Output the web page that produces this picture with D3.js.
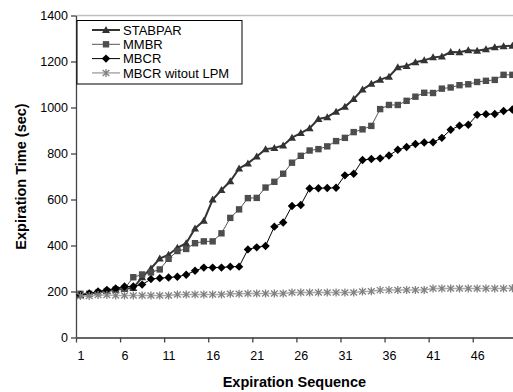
<!DOCTYPE html>
<html>
<head>
<meta charset="utf-8">
<script src="https://cdn.jsdelivr.net/npm/d3@7"></script>
<style>
  body { margin: 0; background: #fff; }
  svg { display: block; font-family: "Liberation Sans", Arial, sans-serif; }
</style>
</head>
<body>
<svg id="chart" width="513" height="392"></svg>
<script>
// expiration sequence 1..50
let sequence = d3.range(1, 51);

let stabpar = [185, 190, 196, 202, 208, 212, 215, 262, 300, 343,
  360, 390, 410, 474, 508, 600, 641, 679, 735, 757,
  787, 819, 824, 835, 869, 889, 910, 950, 958, 982,
  1003, 1037, 1078, 1103, 1121, 1134, 1175, 1180, 1197, 1205,
  1218, 1222, 1241, 1240, 1249, 1247, 1253, 1262, 1266, 1269];

let mmbr = [190, 190, 195, 202, 208, 212, 262, 274, 283, 296,
  342, 376, 385, 410, 418, 418, 453, 520, 557, 606,
  607, 652, 677, 712, 760, 790, 813, 819, 831, 854,
  868, 893, 905, 920, 993, 1011, 1011, 1029, 1047, 1064,
  1063, 1082, 1087, 1097, 1101, 1111, 1116, 1120, 1142, 1142];

let mbcr = [185, 192, 200, 207, 213, 222, 222, 230, 254, 258,
  261, 264, 273, 290, 304, 304, 304, 308, 308, 383,
  392, 398, 482, 500, 572, 576, 648, 649, 650, 651,
  705, 712, 772, 776, 779, 791, 816, 828, 841, 848,
  849, 868, 903, 921, 925, 968, 971, 972, 985, 991];

let mbcrNoLpm = [180, 180, 185, 185, 183, 183, 183, 183, 183, 183,
  183, 187, 187, 187, 187, 187, 187, 190, 190, 191,
  191, 191, 191, 191, 196, 196, 196, 196, 196, 196,
  196, 196, 200, 201, 206, 206, 207, 207, 207, 207,
  213, 213, 213, 213, 213, 213, 213, 213, 213, 214];

let yTicks = [0, 200, 400, 600, 800, 1000, 1200, 1400];
let xLabels = [1, 6, 11, 16, 21, 26, 31, 36, 41, 46];

let series = [
  { name: 'STABPAR', values: stabpar, line: '#333333', lw: 2, mark: 'triangle', fill: '#333333' },
  { name: 'MMBR', values: mmbr, line: '#555555', lw: 1, mark: 'square', fill: '#4d4d4d' },
  { name: 'MBCR', values: mbcr, line: '#000000', lw: 1, mark: 'diamond', fill: '#000000' },
  { name: 'MBCR witout LPM', values: mbcrNoLpm, line: '#aaaaaa', lw: 1.5, mark: 'star', fill: '#808080' }
];

let svg = d3.select('#chart');
let plotLeft = 76, plotTop = 15.5, plotBottom = 337.5;
let step = 8.816;

let x = d3.scaleLinear()
  .domain([0.5, sequence.length + 0.5])
  .range([plotLeft, plotLeft + sequence.length * step]);
let y = d3.scaleLinear().domain([0, 1400]).range([plotBottom, plotTop]);

function marker(g, type, color) {
  if (type === 'triangle') {
    g.append('path').attr('d', 'M0,-4L4,3L-4,3Z').attr('fill', color);
  } else if (type === 'square') {
    g.append('rect').attr('x', -3.2).attr('y', -3.2).attr('width', 6.4).attr('height', 6.4).attr('fill', color);
  } else if (type === 'diamond') {
    g.append('path').attr('d', 'M0,-4.2L4.2,0L0,4.2L-4.2,0Z').attr('fill', color);
  } else {
    g.append('path')
      .attr('d', 'M0,-4L0,4M-3.4,-3L3.4,3M-3.4,3L3.4,-3')
      .attr('stroke', color).attr('stroke-width', 1.3).attr('fill', 'none');
  }
}

// top border line at 1400
svg.append('line')
  .attr('x1', plotLeft).attr('x2', 513)
  .attr('y1', y(1400)).attr('y2', y(1400))
  .attr('stroke', '#c0c0c0').attr('stroke-width', 1.5);

// y axis
let yAxis = svg.append('g')
  .attr('transform', 'translate(' + plotLeft + ',0)')
  .call(d3.axisLeft(y).tickValues(yTicks).tickSize(5).tickPadding(3).tickSizeOuter(0)
    .tickFormat(d3.format('d')));
yAxis.select('.domain').attr('stroke', '#444').attr('stroke-width', 1.3);
yAxis.selectAll('.tick line').attr('stroke', '#444').attr('stroke-width', 1.3);
yAxis.selectAll('text').attr('font-size', 12.5).attr('fill', '#000')
  .attr('font-family', '"Liberation Sans", Arial, sans-serif');

// x axis: tick marks at category boundaries, labels at category centres
let xAxis = svg.append('g')
  .attr('transform', 'translate(0,' + plotBottom + ')')
  .call(d3.axisBottom(x).tickValues(xLabels.map(function(d) { return d - 0.5; }))
    .tickSize(5).tickSizeOuter(0).tickFormat(''));
xAxis.select('.domain').attr('stroke', '#666').attr('stroke-width', 2);
xAxis.selectAll('.tick line').attr('stroke', '#444').attr('stroke-width', 1.3);

let xLab = svg.append('g')
  .attr('transform', 'translate(0,' + plotBottom + ')')
  .call(d3.axisBottom(x).tickValues(xLabels).tickSize(0).tickPadding(14).tickFormat(d3.format('d')));
xLab.select('.domain').remove();
xLab.selectAll('text').attr('font-size', 12.5).attr('fill', '#000')
  .attr('font-family', '"Liberation Sans", Arial, sans-serif');

// axis titles
svg.append('text')
  .attr('x', (plotLeft + x.range()[1]) / 2 - 2)
  .attr('y', 387)
  .attr('text-anchor', 'middle')
  .attr('font-weight', 'bold')
  .attr('font-size', 14.5)
  .text('Expiration Sequence');

svg.append('text')
  .attr('transform', 'translate(26,' + (plotTop + plotBottom) / 2 + ') rotate(-90)')
  .attr('text-anchor', 'middle')
  .attr('font-weight', 'bold')
  .attr('font-size', 14.5)
  .text('Expiration Time (sec)');

// series
let line = d3.line()
  .x(function(d, i) { return x(sequence[i]); })
  .y(function(d) { return y(d); });

series.forEach(function(s) {
  let g = svg.append('g');
  g.append('path')
    .attr('d', line(s.values))
    .attr('fill', 'none')
    .attr('stroke', s.line)
    .attr('stroke-width', s.lw);
  s.values.forEach(function(v, i) {
    let m = g.append('g').attr('transform', 'translate(' + x(sequence[i]) + ',' + y(v) + ')');
    marker(m, s.mark, s.fill);
  });
});

// legend
let legend = svg.append('g');
legend.append('rect')
  .attr('x', 77).attr('y', 20.5)
  .attr('width', 165).attr('height', 63.5)
  .attr('fill', '#fff').attr('stroke', '#000').attr('stroke-width', 1);

series.forEach(function(s, i) {
  let ly = 30 + i * 14.3;
  let row = legend.append('g').attr('transform', 'translate(0,' + ly + ')');
  row.append('line')
    .attr('x1', 92).attr('x2', 120).attr('y1', 0).attr('y2', 0)
    .attr('stroke', s.line).attr('stroke-width', s.lw);
  marker(row.append('g').attr('transform', 'translate(106,0)'), s.mark, s.fill);
  row.append('text')
    .attr('x', 123).attr('y', 4.6)
    .attr('font-size', 13)
    .text(s.name);
});
</script>
</body>
</html>
